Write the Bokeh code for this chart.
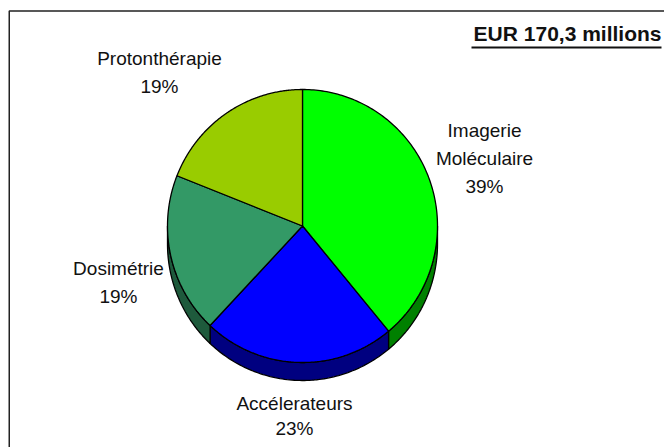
import numpy as np
from bokeh.plotting import figure
from bokeh.core.properties import value
from bokeh.embed import file_html
from bokeh.resources import INLINE

# ---- data ----
categories = ["Imagerie Moléculaire", "Accélerateurs", "Dosimétrie", "Protonthérapie"]
label_lines = [["Imagerie", "Moléculaire"], ["Accélerateurs"], ["Dosimétrie"], ["Protonthérapie"]]
shares = [39, 23, 19, 19]
top_colors = ["#00FF00", "#0000FF", "#339966", "#99CC00"]
side_colors = ["#008000", "#000080", "#1E5A3C", "#5C7A00"]
title_text = "EUR 170,3 millions"

# ---- layout (pixels, y up from the bottom) ----
W, H = 664, 447
cx, cy, rx, ry, depth = 302.0, 221.5, 135.0, 136.5, 18.0
TXT_SHIFT = 8.5  # compensates the renderer's baseline offset
label_anchor = [(484, 308.7, 28.3), (294, 35.3, 25.0), (118, 170.3, 28.0), (159, 380.3, 28.0)]
FONT = "Liberation Sans"

p = figure(width=W, height=H, x_range=(0, W), y_range=(0, H),
           output_backend="svg", toolbar_location=None, min_border=0)
p.axis.visible = False
p.grid.visible = False
p.outline_line_color = None
p.background_fill_color = "white"
p.border_fill_color = "white"

# frame (left and top edges)
p.line([8.75, 8.75, W], [0, 436.5, 436.5], line_color="#222222", line_width=1.5)

# pie geometry from shares
frac = np.array(shares, dtype=float) / sum(shares)
ends = np.cumsum(frac) * 2 * np.pi
starts = np.concatenate([[0.0], ends[:-1]])

def pt(t, dy=0.0):
    return cx + rx * np.sin(t), cy + ry * np.cos(t) - dy

side_xs, side_ys, side_fill = [], [], []
top_xs, top_ys = [], []
for a0, a1, sc in zip(starts, ends, side_colors):
    lo, hi = max(a0, np.pi / 2), min(a1, 3 * np.pi / 2)
    if hi > lo:
        t = np.linspace(lo, hi, 80)
        x1, y1 = pt(t)
        x2, y2 = pt(t[::-1], depth)
        side_xs.append(list(np.concatenate([x1, x2])))
        side_ys.append(list(np.concatenate([y1, y2])))
        side_fill.append(sc)
    t = np.linspace(a0, a1, 150)
    xa, ya = pt(t)
    top_xs.append([cx] + list(xa))
    top_ys.append([cy] + list(ya))

p.patches(side_xs, side_ys, fill_color=side_fill, line_color="black", line_width=1.3)
p.patches(top_xs, top_ys, fill_color=top_colors, line_color="black", line_width=1.3)

# labels
lx, ly, lt = [], [], []
for lines, s, (ax, ay, sp) in zip(label_lines, shares, label_anchor):
    for i, txt in enumerate(lines + [f"{s}%"]):
        lx.append(ax)
        ly.append(ay - i * sp + TXT_SHIFT)
        lt.append(txt)
p.text(x=lx, y=ly, text=lt, text_font=value(FONT), text_font_size="19px",
       text_align="center", text_baseline="alphabetic", text_color="#111111")

# title, bold and underlined
p.text(x=[661], y=[405.3 + TXT_SHIFT], text=[title_text], text_font=value(FONT), text_font_size="21px",
       text_font_style="bold", text_align="right", text_baseline="alphabetic", text_color="#111111")
p.line([471, 661], [400, 400], line_color="#111111", line_width=2.2)

open("out.html", "w").write(file_html(p, INLINE))
